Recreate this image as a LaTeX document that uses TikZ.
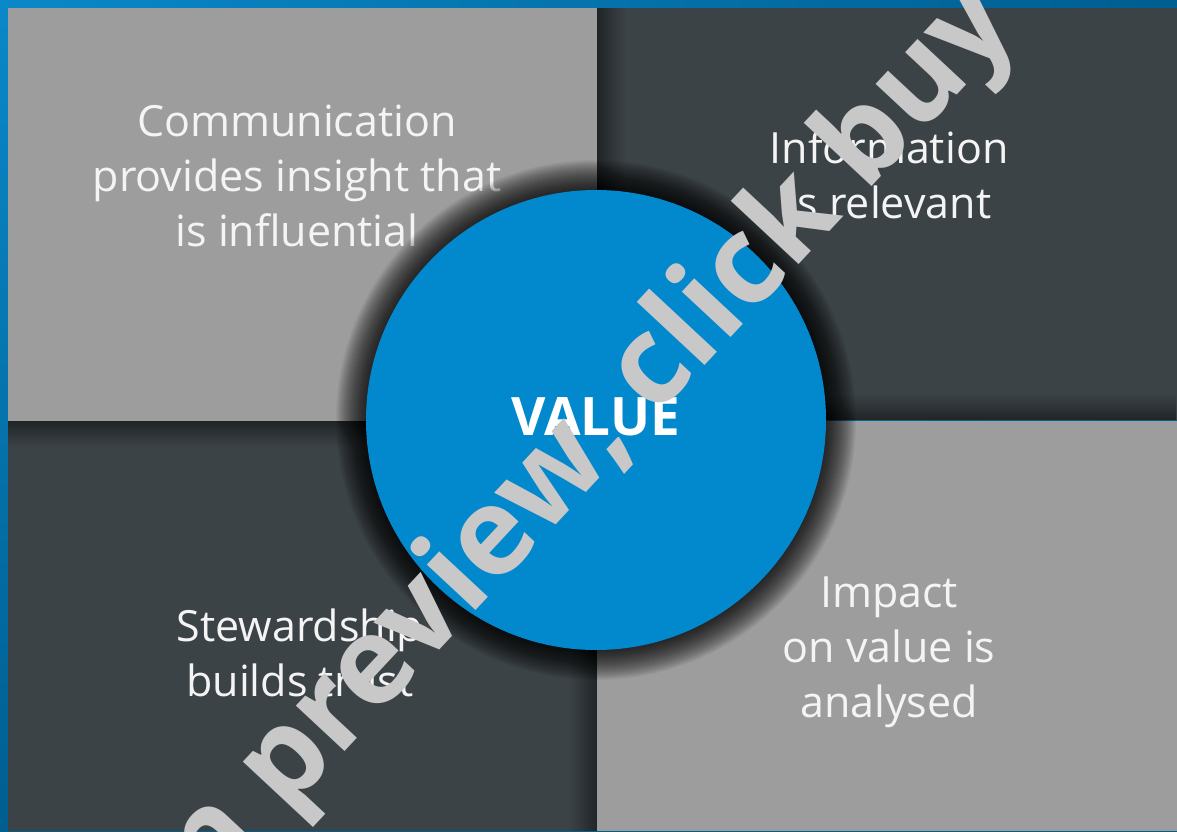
\documentclass[tikz,border=0pt]{standalone}
\usepackage{fontspec}
\setmainfont{Open Sans}
\usetikzlibrary{shadings,fadings}
\definecolor{frameblue}{HTML}{005E90}
\definecolor{framelight}{HTML}{0A88C8}
\definecolor{quadgray}{HTML}{9C9D9C}
\definecolor{quaddark}{HTML}{3C4347}
\definecolor{valueblue}{HTML}{0288CC}
\definecolor{labeltext}{HTML}{F4F4F4}
\definecolor{markgray}{HTML}{C8C8C8}
% edge fadings for the inner shadows of the dark panels
\tikzfading[name=fromleft,  left color=transparent!0,  right color=transparent!100]
\tikzfading[name=fromright, left color=transparent!100, right color=transparent!0]
\tikzfading[name=fromtop,   top color=transparent!0,   bottom color=transparent!100]
\tikzfading[name=frombottom,top color=transparent!100, bottom color=transparent!0]
\tikzset{
  quadlabel/.style={align=center, text=labeltext, inner sep=0pt,
    font=\fontsize{43}{55}\selectfont},
  hub/.style={circle, fill=valueblue, minimum size=460pt, inner sep=0pt},
  hubtext/.style={text=white, inner sep=0pt, font=\bfseries\fontsize{53}{53}\selectfont},
  edgeshadow/.style={black, opacity=0.45},
  halostep/.style={black, opacity=0.04},
  stamp/.style={text=markgray, inner sep=0pt, rotate=47,
    font=\bfseries\fontsize{122}{122}\selectfont}
}
\begin{document}
\begin{tikzpicture}[x=1pt,y=-1pt]
  \useasboundingbox (0,0) rectangle (1177,831);
  \clip (0,0) rectangle (1177,831);
  % blue frame
  \shade[upper left=framelight, upper right=frameblue,
         lower left=frameblue, lower right=frameblue] (0,0) rectangle (1177,831);
  % four quadrants
  \fill[quadgray] (8,8) rectangle (597,421);
  \fill[quaddark] (597,8) rectangle (1177,420);
  \fill[quaddark] (8,421) rectangle (597,831);
  \fill[quadgray] (597,421) rectangle (1177,831);
  % inner shadows along the edges of the dark panels
  \fill[edgeshadow, path fading=fromleft]   (597,8) rectangle (625,420);
  \fill[edgeshadow, path fading=frombottom] (597,394) rectangle (1177,420);
  \fill[edgeshadow, path fading=fromtop]    (8,421) rectangle (597,447);
  \fill[edgeshadow, path fading=fromright]  (569,421) rectangle (597,831);
  % quadrant texts
  \node[quadlabel] (comm)   at (297,176) {Communication\\provides insight that\\is influential};
  \node[quadlabel] (info)   at (889,175) {Information\\is relevant};
  \node[quadlabel] (stew)   at (300,653) {Stewardship\\builds trust};
  \node[quadlabel] (impact) at (889,652) {Impact\\on value is\\analysed};
  % soft halo: stacked translucent discs round the centre
  \coordinate (hubc) at (596,420);
  \foreach \r in {231,...,260}
    \fill[halostep] (hubc) circle (\r pt);
  % central circle
  \node[hub] (value) at (hubc) {};
  \node[hubtext] (valuetext) at (596,417) {VALUE};
  % diagonal stamp
  \node[stamp] (mark) at (566,468) {on preview, click buy};
\end{tikzpicture}
\end{document}
